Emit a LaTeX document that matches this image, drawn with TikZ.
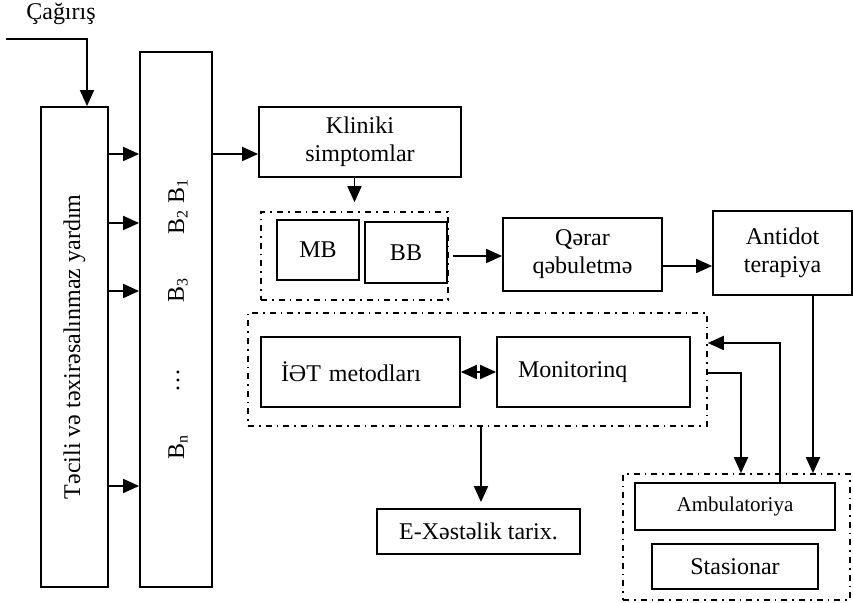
\documentclass[tikz,border=0pt]{standalone}
\usepackage{fontspec}
\setmainfont{Liberation Serif}
\usetikzlibrary{arrows.meta,positioning}

\begin{document}
\begin{tikzpicture}[
    x=0.5pt, y=-0.5pt,  % one unit = one pixel of the layout
    font=\fontsize{12}{14}\selectfont,
    >={Triangle[length=8pt,width=7pt]},
    box/.style = {draw, line width=0.9pt, inner sep=0pt, align=center},
    group/.style = {draw, line width=0.8pt, inner sep=0pt,
                    dash pattern=on 3pt off 2.5pt on 0.8pt off 2.5pt},
    arr/.style = {line width=0.9pt, ->},
    sz/.style 2 args = {minimum width=#1*0.5pt, minimum height=#2*0.5pt}
  ]
    \useasboundingbox (0,0) rectangle (853,603);

    \node (call) at (61,14) {Çağırış};
    \coordinate (in) at (6,39);

    % left columns
    \node[box, sz={67}{480}] (help) at (74.5,347) {};
    \node[rotate=90] at (help.center) {Təcili və təxirəsalınmaz yardım};
    \node[box, sz={72}{535}] (bcol) at (176,319.5) {};
    \node[rotate=90] (b1) at (178,191) {B\textsubscript{1}};
    \node[rotate=90] (b2) at (178,222) {B\textsubscript{2}};
    \node[rotate=90] (b3) at (178,290) {B\textsubscript{3}};
    \node[rotate=90] (bdots) at (178,381) {\dots};
    \node[rotate=90] (bn) at (178,447) {B\textsubscript{n}};

    % upper row
    \node[box, sz={202}{70}] (klin) at (360,142) {Kliniki\\simptomlar};
    \node[group, sz={187}{88}] (grp1) at (354.5,256) {};
    \node[box, sz={82}{60}] (mb) at (318,250) {MB};
    \node[box, sz={82}{61}] (bb) at (406,252.5) {BB};
    \node[box, sz={159}{73}] (qerar) at (582.5,254.5) {Qərar\\qəbuletmə};
    \node[box, sz={139}{84}] (anti) at (782.5,253) {Antidot\\terapiya};

    % middle group
    \node[group, sz={459}{113}] (grp2) at (477.5,369.5) {};
    \node[box, minimum height=35pt, inner xsep=10pt, text width=79.5pt, align=left] (iet) at (360.5,372) {İƏT metodları};
    \node[box, minimum height=35pt, inner xsep=10.5pt, text width=75.5pt, align=left] (mon) at (593.5,372) {Monitorinq};
    \node[box, sz={203}{45}] (ehr) at (478.5,531.5) {E-Xəstəlik tarix.};

    % right group
    \node[group, sz={227}{126}] (grp3) at (736.5,537) {};
    \node[box, sz={200}{47}, font=\fontsize{10.5}{12}\selectfont] (amb) at (735,506.5) {Ambulatoriya};
    \node[box, sz={166}{45}] (sta) [below=6pt of amb] {Stasionar};

    \draw[arr] (in) -| (help.north -| 87,0);
    \foreach \y in {154,223,291,486}
      \draw[arr] (help.east |- 0,\y) -- (bcol.west |- 0,\y);
    \draw[arr] (bcol.east |- 0,154) -- (klin.west |- 0,154);
    \draw[arr, shorten >=4.5pt] (klin.south -| grp1.north) -- (grp1.north);
    \draw[arr, shorten <=2pt] (grp1.east |- 0,256) -- (qerar.west |- 0,256);
    \draw[arr] (qerar.east |- 0,266) -- (anti.west |- 0,266);
    \draw[arr, <->] (iet) -- (mon);
    \draw[arr, shorten >=3pt] (grp2.south -| 481,0) -- (ehr.north -| 481,0);
    \draw[arr] (grp2.east |- 0,373) -| (grp3.north -| 741,0);
    \draw[arr] (amb.north -| 780,0) |- (grp2.east |- 0,343);
    \draw[arr] (anti.south -| 813,0) -- (grp3.north -| 813,0);
  \end{tikzpicture}
\end{document}
